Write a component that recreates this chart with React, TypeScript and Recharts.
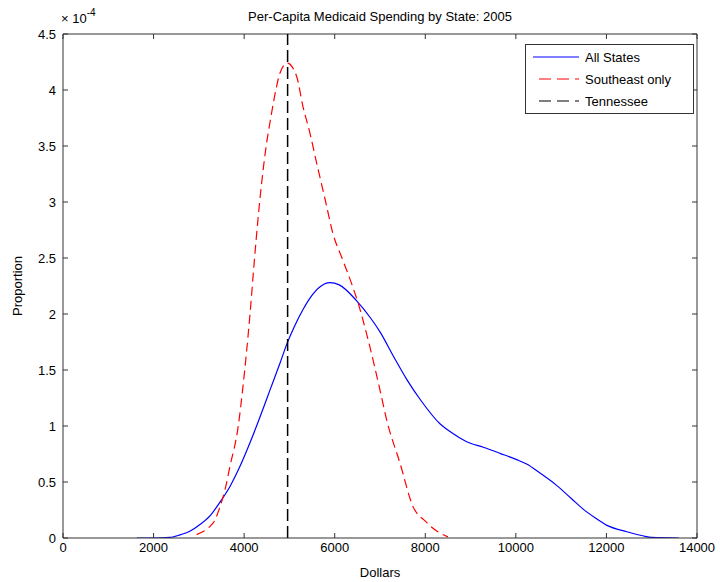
import { LineChart, Line, XAxis, YAxis, ReferenceLine, Legend } from "recharts";

// dollars / proportion (x 1e-4)
const allStatesX = [1630, 2000, 2360, 2600, 2800, 3025, 3250, 3467, 3687, 3908, 4129, 4350, 4570, 4791, 4950, 5100, 5300, 5450, 5700, 5890, 6100, 6480, 6800, 7000, 7300, 7600, 7900, 8324, 8545, 8913, 9281, 9649, 10017, 10238, 10532, 10900, 11231, 11480, 11750, 12000, 12450, 12800, 13000, 13600];
const allStatesY = [0, 0, 0.005, 0.03, 0.06, 0.12, 0.2, 0.32, 0.46, 0.64, 0.85, 1.08, 1.32, 1.56, 1.74, 1.88, 2.04, 2.14, 2.25, 2.28, 2.26, 2.12, 1.96, 1.84, 1.62, 1.41, 1.23, 1.02, 0.95, 0.86, 0.81, 0.756, 0.7, 0.66, 0.58, 0.47, 0.35, 0.26, 0.18, 0.115, 0.056, 0.02, 0.005, 0];

const southeastX = [2950, 3208, 3356, 3467, 3577, 3687, 3870, 3960, 4050, 4130, 4220, 4330, 4470, 4600, 4700, 4790, 4950, 5160, 5300, 5450, 5600, 5790, 5960, 6180, 6400, 6500, 6750, 7000, 7150, 7440, 7730, 8000, 8300, 8500];
const southeastY = [0.03, 0.09, 0.16, 0.28, 0.43, 0.64, 1.0, 1.3, 1.65, 2.0, 2.45, 2.95, 3.45, 3.78, 4.0, 4.15, 4.24, 4.12, 3.85, 3.62, 3.35, 3.02, 2.72, 2.48, 2.24, 2.12, 1.75, 1.32, 1.05, 0.67, 0.28, 0.15, 0.05, 0.01];

const tennessee = 4960;

const xTicks = [0, 2000, 4000, 6000, 8000, 10000, 12000, 14000];
const yTicks = [0, 0.5, 1, 1.5, 2, 2.5, 3, 3.5, 4, 4.5];

const legendItems = [
  { name: "All States", color: "#0000ff", dash: undefined },
  { name: "Southeast only", color: "#ff0000", dash: "12 6" },
  { name: "Tennessee", color: "#000000", dash: "12 6" },
];

const allStates = allStatesX.map((x, i) => ({ x, y: allStatesY[i] }));
const southeast = southeastX.map((x, i) => ({ x, y: southeastY[i] }));

const font = "'Liberation Sans', Arial, sans-serif";
const axisColor = "#333";

// plot box edges (follow from the chart margins / axis sizes below)
const PLOT_LEFT = 63;
const PLOT_RIGHT = 697;
const PLOT_TOP = 34;
const PLOT_BOTTOM = 538;
const TICK = 5;

// matlab-style ticks: pointing inward, mirrored on the opposite side
function XTick(props: any) {
  const { x, y, payload } = props;
  return (
    <g>
      <line x1={x} x2={x} y1={PLOT_BOTTOM} y2={PLOT_BOTTOM - TICK} stroke={axisColor} />
      <line x1={x} x2={x} y1={PLOT_TOP} y2={PLOT_TOP + TICK} stroke={axisColor} />
      <text x={x} y={y} dy="0.71em" textAnchor="middle" fill="#000" fontSize={13} fontFamily={font}>{payload.value}</text>
    </g>
  );
}

function YTick(props: any) {
  const { x, y, payload } = props;
  return (
    <g>
      <line x1={PLOT_LEFT} x2={PLOT_LEFT + TICK} y1={y} y2={y} stroke={axisColor} />
      <line x1={PLOT_RIGHT} x2={PLOT_RIGHT - TICK} y1={y} y2={y} stroke={axisColor} />
      <text x={x} y={y} dy="0.355em" textAnchor="end" fill="#000" fontSize={13} fontFamily={font}>{payload.value}</text>
    </g>
  );
}

function LegendBox() {
  return (
    <div style={{ border: `1px solid ${axisColor}`, background: "#fff", boxSizing: "border-box", width: 169, height: 70, paddingTop: 1 }}>
      {legendItems.map((it) => (
        <div key={it.name} style={{ height: 22, display: "flex", alignItems: "center" }}>
          <svg width={56} height={22} style={{ marginLeft: 7 }}>
            <line x1={it.dash ? 6 : 0} y1={11} x2={46} y2={11} stroke={it.color} strokeWidth={1.2} strokeDasharray={it.dash} />
          </svg>
          <span style={{ fontFamily: font, fontSize: 13, color: "#000", marginLeft: -4 }}>{it.name}</span>
        </div>
      ))}
    </div>
  );
}

export default function App() {
  return (
    <div style={{ position: "absolute", left: 0, top: 0, width: 720, height: 582, background: "#fff", fontFamily: font }}>
      <div style={{ position: "absolute", left: 0, width: 760, top: 9, textAlign: "center", fontSize: 13 }}>
        Per-Capita Medicaid Spending by State: 2005
      </div>
      <div style={{ position: "absolute", left: 61, top: 9, fontSize: 13 }}>
        × 10<sup style={{ fontSize: 10, position: "relative", top: -2 }}>-4</sup>
      </div>
      <div style={{ position: "absolute", left: 0, width: 760, top: 565, textAlign: "center", fontSize: 13 }}>Dollars</div>
      <div style={{ position: "absolute", left: 17, top: 286, fontSize: 13, transform: "translate(-50%, -50%) rotate(-90deg)", whiteSpace: "nowrap" }}>
        Proportion
      </div>
      <LineChart width={720} height={582} margin={{ top: PLOT_TOP, right: 720 - PLOT_RIGHT, left: 0, bottom: 0 }} style={{ position: "absolute", left: 0, top: 0 }}>
        <XAxis type="number" dataKey="x" domain={[0, 14000]} ticks={xTicks} interval={0} allowDataOverflow
          height={582 - PLOT_BOTTOM} tickLine={false} tickSize={0} tickMargin={5} tick={XTick} stroke={axisColor} />
        <YAxis type="number" domain={[0, 4.5]} ticks={yTicks} interval={0} allowDataOverflow
          width={PLOT_LEFT} tickLine={false} tickSize={0} tickMargin={7} tick={YTick} stroke={axisColor} />
        {/* top and right edges of the box */}
        <ReferenceLine y={4.5} stroke={axisColor} />
        <ReferenceLine x={14000} stroke={axisColor} />
        <Line data={allStates} dataKey="y" name="All States" type="monotone"
          stroke="#0000ff" strokeWidth={1.2} dot={false} isAnimationActive={false} />
        <Line data={southeast} dataKey="y" name="Southeast only" type="monotone"
          stroke="#ff0000" strokeWidth={1.2} strokeDasharray="9 5" dot={false} isAnimationActive={false} />
        <ReferenceLine x={tennessee} stroke="#000" strokeWidth={1.5} strokeDasharray="12 5" />
        <Legend layout="vertical" align="center" verticalAlign="middle"
          wrapperStyle={{ left: 525, top: 44, width: 169, height: 70 }} content={() => <LegendBox />} />
      </LineChart>
    </div>
  );
}
